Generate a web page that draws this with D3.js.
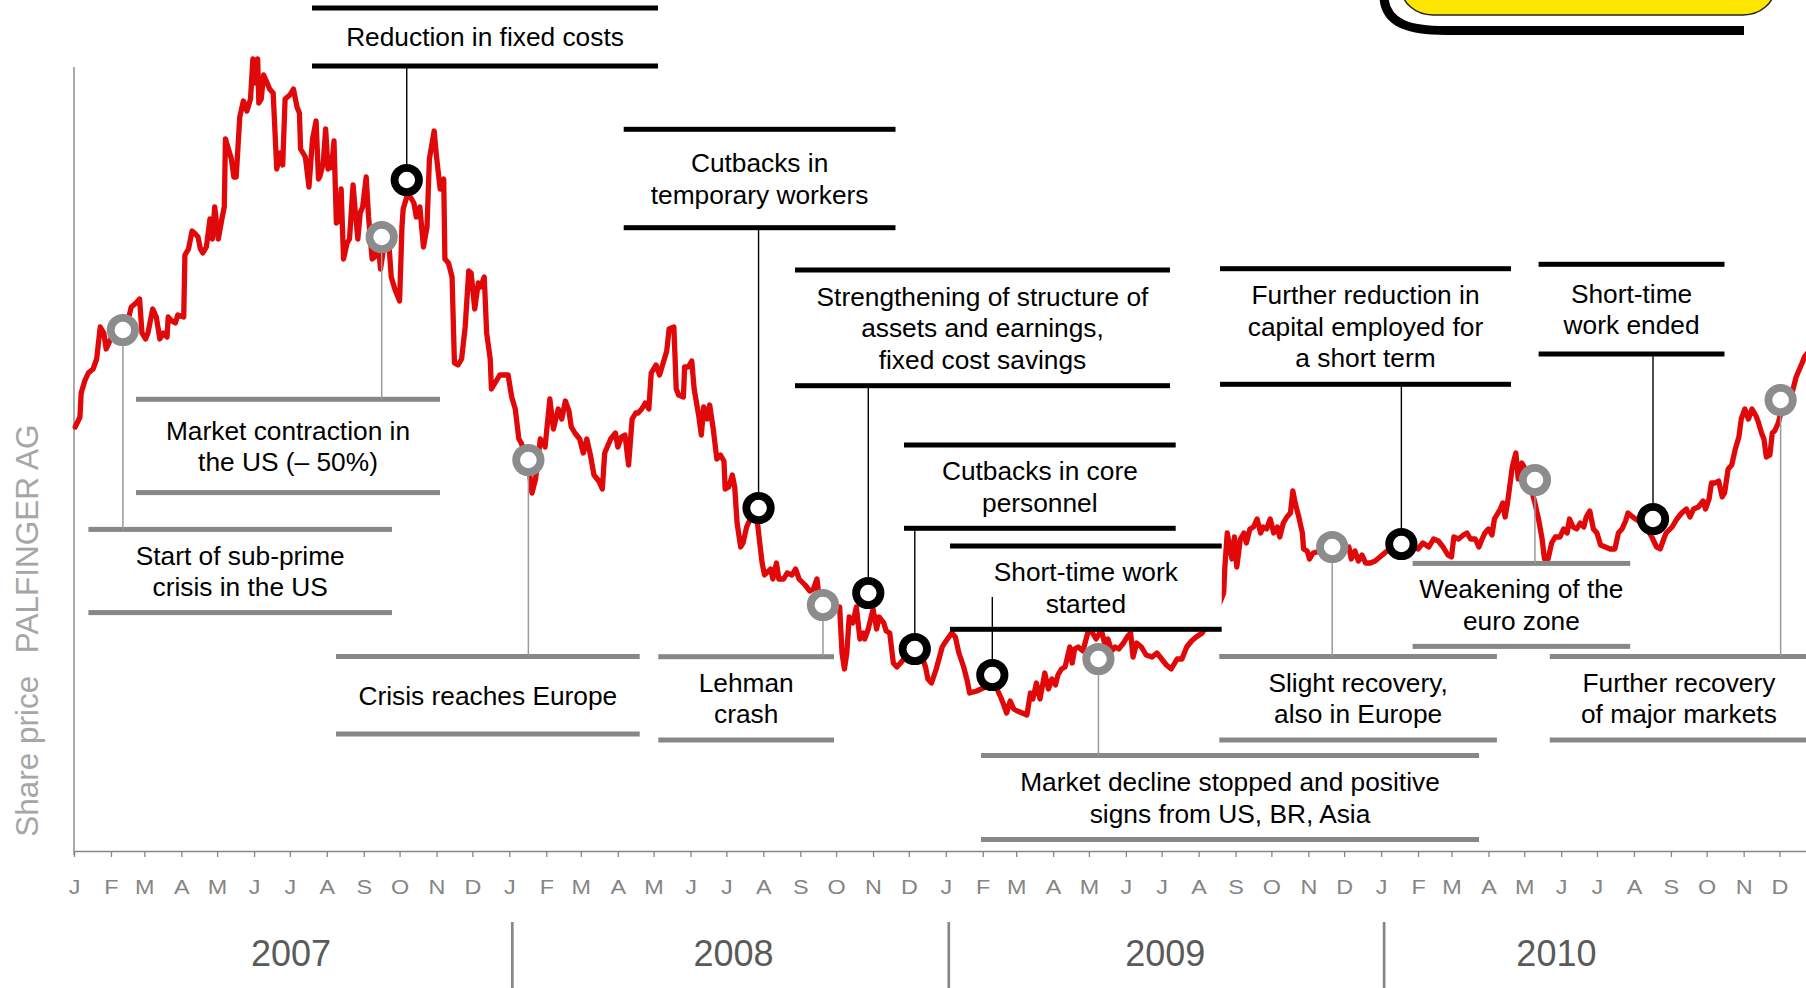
<!DOCTYPE html>
<html><head><meta charset="utf-8">
<script src="https://cdn.jsdelivr.net/npm/d3@7"></script>
<style>html,body{margin:0;padding:0;background:#fff;} svg{display:block;}</style>
</head><body>
<svg id="chart" width="1806" height="988"></svg>
<script>
// ---- DATA (day offset from 1 Jan 2007, share price in EUR) ----
const sharePrice = [
[1,24.5],[5,25.0],[6,26.2],[9,26.8],[12,27.2],[16,27.4],[19,27.9],[22,29.5],[25,29.2],[27,28.4],[30,28.8],[33,29.2],[37,29.2],[41,29.5],[46,30.0],[48,30.5],[52,30.7],[55,30.9],[57,29.2],[60,28.9],[62,29.2],[66,30.4],[69,30.0],[72,28.9],[75,29.2],[78,29.0],[79,30.0],[82,29.8],[85,29.7],[87,30.1],[92,30.0],[93,33.1],[96,33.4],[99,34.3],[101,34.2],[104,34.0],[106,33.4],[108,33.2],[111,33.5],[114,34.9],[116,33.9],[118,35.5],[121,33.9],[124,34.9],[126,35.5],[127,38.9],[129,38.5],[132,37.9],[134,37.0],[136,37.0],[139,40.0],[142,40.8],[145,40.3],[148,40.9],[150,42.9],[152,41.7],[154,42.9],[155,40.7],[157,40.9],[159,42.1],[162,41.7],[164,41.4],[167,41.2],[170,37.4],[173,38.2],[175,37.6],[177,40.9],[181,41.1],[184,41.4],[187,40.5],[189,40.2],[190,38.4],[194,38.0],[197,36.5],[200,38.9],[203,39.8],[205,36.9],[206,37.0],[209,37.7],[211,39.4],[213,37.4],[216,37.5],[218,38.8],[220,34.7],[222,34.8],[224,36.4],[226,32.9],[229,33.7],[231,33.9],[234,36.6],[236,35.2],[238,33.9],[240,35.2],[242,35.5],[245,37.0],[247,35.0],[250,32.9],[252,33.0],[255,33.7],[257,32.4],[259,33.2],[261,33.9],[264,33.7],[266,32.0],[269,31.4],[273,30.8],[275,34.5],[276,35.4],[279,36.0],[282,36.0],[285,35.7],[287,35.0],[290,35.5],[293,33.5],[296,34.5],[298,37.9],[302,39.3],[304,38.0],[307,36.4],[310,36.9],[311,32.9],[314,32.7],[317,32.0],[319,27.7],[322,27.6],[325,27.9],[328,29.5],[331,32.3],[333,32.2],[336,30.4],[339,31.7],[341,31.5],[344,32.0],[346,29.2],[349,27.9],[350,26.4],[353,26.7],[357,27.1],[364,27.1],[367,26.0],[370,25.4],[373,23.9],[375,23.7],[378,23.2],[382,22.2],[384,21.2],[387,21.9],[391,23.9],[395,23.5],[399,25.9],[402,24.4],[406,25.4],
[409,24.9],[412,25.8],[415,25.3],[417,24.5],[420,24.2],[424,23.9],[427,23.2],[430,23.9],[433,23.1],[436,22.1],[440,21.8],[443,21.4],[445,23.2],[450,23.9],[454,24.2],[456,23.5],[459,24.0],[462,24.1],[465,22.6],[468,24.9],[471,25.2],[473,25.2],[476,25.4],[479,25.7],[482,25.4],[484,27.2],[488,27.6],[491,27.1],[495,27.9],[497,28.3],[499,29.4],[503,29.5],[505,26.4],[507,26.1],[511,26.0],[512,27.5],[515,27.5],[518,27.8],[520,26.4],[524,25.0],[526,24.1],[528,25.5],[531,24.9],[533,25.6],[536,24.4],[539,22.9],[542,23.1],[545,22.8],[546,21.4],[549,21.5],[552,22.1],[554,21.5],[556,19.7],[559,18.5],[561,18.7],[564,19.5],[567,19.9],[572,20.3],[575,18.7],[577,17.7],[579,17.1],[584,17.4],[586,16.9],[589,17.7],[591,16.9],[595,16.9],[598,17.2],[602,17.1],[605,17.4],[608,16.9],[613,16.6],[617,16.3],[620,16.4],[623,16.9],[625,15.9],[630,15.5],[633,15.4],[638,15.4],[642,15.5],[644,13.2],[646,12.4],[648,13.2],[650,15.0],[653,14.7],[656,15.5],[659,13.9],[662,14.2],[663,13.9],[666,14.4],[670,15.4],[673,14.4],[675,15.0],[679,14.7],[681,14.3],[684,14.2],[687,12.7],[690,12.5],[693,12.7],[700,13.2],[706,13.4],[711,13.0],[714,12.5],[716,11.9],
[719,11.7],[723,12.4],[728,13.5],[730,13.7],[736,14.2],[739,14.0],[742,13.2],[746,12.5],[749,11.8],[751,11.2],[757,11.3],[764,11.5],[770,11.9],[777,11.0],[779,10.7],[782,10.2],[785,10.8],[788,10.4],[791,10.3],[795,10.2],[799,10.1],[802,11.2],[804,10.9],[807,11.7],[810,10.9],[814,12.2],[817,11.4],[820,11.9],[823,11.6],[825,12.1],[828,12.4],[831,12.5],[835,13.5],[837,12.7],[839,13.4],[842,13.5],[846,13.3],[850,14.2],[853,14.3],[857,13.9],[860,14.2],[862,14.2],[865,13.5],[867,13.9],[870,13.3],[873,13.5],[876,13.4],[880,13.7],[883,14.0],[886,14.2],[888,13.0],[891,13.7],[895,13.5],[899,13.1],[904,13.0],[908,13.2],[912,12.9],[916,12.6],[920,12.4],[925,12.9],[929,12.9],[933,13.5],[937,13.8],[941,14.0],[946,14.2],[950,14.6],[955,15.0],[960,15.6],[964,16.2],[965,17.5],[967,19.2],[969,18.5],[971,17.9],[973,19.0],[975,17.5],[978,18.9],[981,19.2],[983,18.7],[986,19.4],[989,19.5],[992,19.9],[995,19.2],[997,19.5],[1000,19.4],[1003,19.9],[1006,19.2],[1009,19.5],[1011,19.0],[1014,19.7],[1017,20.0],[1020,20.2],[1022,21.3],[1024,20.7],[1027,20.0],[1030,19.2],[1031,18.4],[1034,18.3],[1036,17.9],[1039,18.2],[1045,18.3],[1055,18.4],[1062,18.2],[1066,18.4],[1069,18.5],[1071,17.9],[1074,18.3],[1077,17.8],[1080,18.1],[1083,17.7],[1087,17.7],[1091,17.8],[1095,18.0],[1099,18.2],
[1103,18.4],[1108,18.5],[1118,18.6],[1127,18.4],[1131,18.7],[1136,18.5],[1140,18.9],[1144,18.8],[1148,18.5],[1152,18.1],[1155,18.0],[1157,19.0],[1161,18.9],[1165,19.1],[1168,19.2],[1171,18.9],[1175,18.9],[1178,18.5],[1180,18.8],[1183,19.2],[1186,19.4],[1189,19.1],[1191,19.9],[1193,20.1],[1196,20.4],[1198,20.7],[1200,20.0],[1202,20.7],[1204,21.6],[1206,22.5],[1209,23.2],[1211,21.9],[1214,22.7],[1217,22.4],[1221,21.6],[1225,20.7],[1228,19.9],[1231,18.9],[1233,17.9],[1236,17.9],[1239,18.7],[1242,19.0],[1246,19.0],[1249,19.4],[1252,19.2],[1254,19.9],[1257,19.5],[1260,19.4],[1263,19.7],[1266,19.5],[1268,20.0],[1271,20.3],[1274,19.4],[1277,19.2],[1280,18.6],[1284,18.5],[1288,18.4],[1292,18.4],[1295,19.2],[1298,19.4],[1301,19.8],[1303,20.2],[1307,20.0],[1312,19.8],[1318,19.5],[1323,19.0],[1327,18.5],[1330,18.4],[1333,18.9],[1335,19.2],[1340,19.5],[1344,19.9],[1348,20.2],[1352,20.4],[1355,20.0],[1358,20.4],[1362,20.5],[1366,20.8],[1368,20.4],[1371,20.9],[1373,21.7],[1376,21.7],[1379,21.8],[1382,21.0],[1384,21.2],[1387,22.4],[1390,22.6],[1393,23.4],[1396,24.0],[1398,24.9],[1401,25.4],[1404,24.9],[1407,25.4],[1410,25.1],[1412,24.8],[1415,24.2],[1417,23.9],[1419,23.0],[1422,23.1],[1424,24.2],[1426,24.3],[1429,24.7],[1433,25.6],[1437,25.5],[1441,26.3],[1444,27.0],[1449,27.7],[1451,28.0],[1455,28.3]
];
const monthLetters = ["J","F","M","A","M","J","J","A","S","O","N","D"];
const yearLabels = ["2007","2008","2009","2010"];
const yearLabelDays = [182, 553, 915, 1243];
const yearStarts = [2008, 2009, 2010];

// events: market events (gray) and PALFINGER measures (black)
const eventDays   = [41, 258, 381, 628, 859, 1055, 1225, 1431, 279, 574, 666, 705, 770, 1113, 1324];
const eventPrices = [29.35, 34.0, 22.85, 15.6, 12.9, 18.5, 21.85, 25.85, 36.85, 20.45, 16.2, 13.4, 12.1, 18.65, 19.9];
const eventKinds  = ["market","market","market","market","market","market","market","market",
                     "company","company","company","company","company","company","company"];
const eventTexts  = [
  ["Start of sub-prime","crisis in the US"],
  ["Market contraction in","the US (\u2013 50%)"],
  ["Crisis reaches Europe"],
  ["Lehman","crash"],
  ["Market decline stopped and positive","signs from US, BR, Asia"],
  ["Slight recovery,","also in Europe"],
  ["Weakening of the","euro zone"],
  ["Further recovery","of major markets"],
  ["Reduction in fixed costs"],
  ["Cutbacks in","temporary workers"],
  ["Strengthening of structure of","assets and earnings,","fixed cost savings"],
  ["Cutbacks in core","personnel"],
  ["Short-time work","started"],
  ["Further reduction in","capital employed for","a short term"],
  ["Short-time","work ended"]
];
// ---- LAYOUT of annotation boxes: [left, right, top bar, bottom bar] ----
const noteBoxes = [
  [88.4,392,529.4,612.6],[136,440,399.3,492.6],[336,639.7,656.5,734],[658.3,834,656.7,740],
  [981,1479,755.5,839.5],[1219.3,1496.9,656.5,740],[1412.6,1630.2,563.4,646.4],[1549.8,1808,656.5,740],
  [312,658,8,66],[623.7,895.5,129.3,227.7],[795,1170,270,385.7],[904,1175.7,445,528.3],
  [950,1221.7,546,629.3],[1220,1511,268.7,384.3],[1538.6,1724.5,264.3,354]
];
const leaderStart = {12: 597};

const FONT = "'Liberation Sans', Arial, Helvetica, sans-serif";
const GRAY = "#878787", RED = "#e00808";
const svg = d3.select("#chart");
svg.append("rect").attr("width",1806).attr("height",988).attr("fill","#fff");

const start = Date.UTC(2007,0,1);
const dayDate = d => new Date(start + d*864e5);
const x = d3.scaleUtc().domain([new Date(start), new Date(Date.UTC(2011,0,1))]).range([74, 1816.4]);
const y = d3.scaleLinear().domain([0,45]).range([917,17]);

// axes
svg.append("line").attr("x1",74).attr("x2",74).attr("y1",67).attr("y2",855)
  .attr("stroke",GRAY).attr("stroke-width",1.4);
const gx = svg.append("g").attr("transform","translate(0,851)")
  .call(d3.axisBottom(x)
        .tickValues(d3.utcMonths(new Date(start), new Date(Date.UTC(2010,11,2))))
        .tickSize(6).tickSizeOuter(0)
        .tickFormat(d => monthLetters[d.getUTCMonth()]));
gx.attr("font-family",FONT).attr("font-size",19.5);
gx.select(".domain").attr("stroke",GRAY).attr("stroke-width",1.4);
gx.selectAll(".tick line").attr("stroke",GRAY).attr("stroke-width",1.3);
gx.selectAll(".tick text").attr("y",43.5).attr("dy",null).attr("fill","#858585")
  .attr("transform","scale(1.2,1)");

// year separators and labels
svg.selectAll(".ysep").data(yearStarts).enter().append("line")
  .attr("x1",d=>x(new Date(Date.UTC(d,0,1)))+3).attr("x2",d=>x(new Date(Date.UTC(d,0,1)))+3)
  .attr("y1",922).attr("y2",988).attr("stroke",GRAY).attr("stroke-width",2.7);
svg.selectAll(".ylab").data(yearLabels).enter().append("text")
  .attr("x",(d,i)=>x(dayDate(yearLabelDays[i]))).attr("y",966)
  .attr("text-anchor","middle").attr("font-family",FONT).attr("font-size",36)
  .attr("fill","#5a5a5a").text(d=>d);

// y title
const yt = svg.append("text").attr("transform","translate(38,836.8) rotate(-90)")
  .attr("font-family",FONT).attr("font-size",31.5).attr("fill","#a6a6a6");
yt.append("tspan").text("Share price");
yt.append("tspan").attr("dx",22.5).text("PALFINGER AG");

// price line
const line = d3.line().x(d=>x(dayDate(d[0]))).y(d=>y(d[1]));
svg.append("path").datum(sharePrice).attr("d",line).attr("fill","none")
  .attr("stroke",RED).attr("stroke-width",5.3).attr("stroke-linejoin","round").attr("stroke-linecap","round");

// annotation boxes
const LH = 31.5;
eventTexts.forEach((lines,i) => {
  const [x0,x1,t,b] = noteBoxes[i];
  const col = eventKinds[i]==="company" ? "#000" : GRAY;
  const g = svg.append("g");
  g.append("rect").attr("x",x0).attr("y",t).attr("width",x1-x0).attr("height",b-t).attr("fill","#fff");
  [t,b].forEach(yy => g.append("rect").attr("x",x0).attr("y",yy-2.5).attr("width",x1-x0).attr("height",5).attr("fill",col));
  const mid = (t+b)/2, cx = (x0+x1)/2, n = lines.length;
  lines.forEach((s,k) => g.append("text").attr("x",cx).attr("y",mid+9.3+(k-(n-1)/2)*LH)
    .attr("text-anchor","middle").attr("font-family",FONT).attr("font-size",26.3).attr("fill","#000").text(s));
});

// leaders
eventDays.forEach((d,i) => {
  const [x0,x1,t,b] = noteBoxes[i];
  const cx = x(dayDate(d)), cy = y(eventPrices[i]);
  const company = eventKinds[i]==="company";
  const from = leaderStart[i] !== undefined ? leaderStart[i] : (company ? b : t);
  svg.append("line").attr("x1",cx).attr("x2",cx).attr("y1",from).attr("y2",cy)
    .attr("stroke",company ? "#000" : "#9a9a9a").attr("stroke-width",company ? 1.4 : 1.5);
});

// markers
svg.selectAll(".mk").data(eventDays).enter().append("circle")
  .attr("cx",d=>x(dayDate(d))).attr("cy",(d,i)=>y(eventPrices[i])).attr("r",12.2)
  .attr("fill","#fff").attr("stroke",(d,i)=>eventKinds[i]==="company" ? "#000" : "#8c8c8c")
  .attr("stroke-width",7.8);

// logo fragment top right
svg.append("path").attr("d","M1384,-2 C1386,24 1410,30.5 1446,30.5 L1744,30.5")
  .attr("fill","none").attr("stroke","#000").attr("stroke-width",9);
svg.append("rect").attr("x",1401).attr("y",-60).attr("width",374).attr("height",75)
  .attr("rx",32).attr("ry",28).attr("fill","#ffe600").attr("stroke","#222").attr("stroke-width",1.5);
</script>
</body></html>
